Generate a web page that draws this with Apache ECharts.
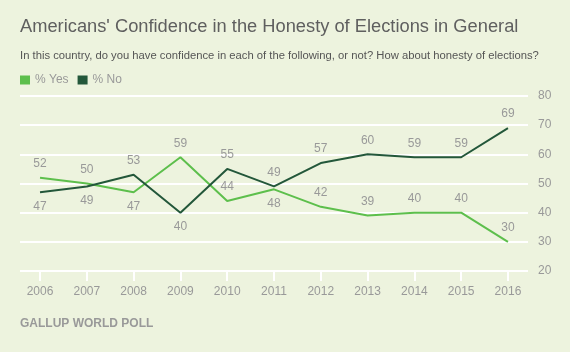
<!DOCTYPE html>
<html>
<head>
<meta charset="utf-8">
<script src="https://cdn.jsdelivr.net/npm/echarts@6/dist/echarts.min.js"></script>
<style>
  html, body { margin: 0; padding: 0; background: #EDF3DE; }
  #container { width: 570px; height: 352px; }
</style>
</head>
<body>
<div id="container"></div>
<script>
var years = [2006, 2007, 2008, 2009, 2010, 2011, 2012, 2013, 2014, 2015, 2016];
var yesValues = [52, 50, 47, 59, 44, 48, 42, 39, 40, 40, 30];
var noValues = [47, 49, 53, 40, 55, 49, 57, 60, 59, 59, 69];
// where each value label sits
var yesLabelPos = ['top', 'top', 'bottom', 'top', 'top', 'bottom', 'top', 'top', 'top', 'top', 'top'];
var noLabelPos = ['bottom', 'bottom', 'top', 'bottom', 'top', 'top', 'top', 'top', 'top', 'top', 'top'];
var yTicks = [20, 30, 40, 50, 60, 70, 80];

function graficoConfianza() {
    var dom = document.getElementById('container');
    var myChart = echarts.init(dom);
    var option;

    function makeData(values, positions) {
        return values.map(function (v, i) {
            return {
                value: [years[i], v],
                label: { position: positions[i] }
            };
        });
    }

    var labelStyle = {
        show: true,
        distance: 8,
        color: '#999999',
        fontSize: 12,
        fontFamily: 'Liberation Sans'
    };

    option = {
        backgroundColor: '#EDF3DE',
        animation: false,
        textStyle: { fontFamily: 'Liberation Sans' },
        title: [{
            text: "Americans' Confidence in the Honesty of Elections in General",
            left: 20,
            top: 18,
            padding: 0,
            textStyle: { fontSize: 18.3, fontWeight: 'normal', color: '#5f5f5f' }
        }, {
            text: 'In this country, do you have confidence in each of the following, or not? How about honesty of elections?',
            left: 20,
            top: 50,
            padding: 0,
            textStyle: { fontSize: 11.25, fontWeight: 'normal', color: '#555555' }
        }, {
            text: 'GALLUP WORLD POLL',
            left: 20,
            top: 318,
            padding: 0,
            textStyle: { fontSize: 12, fontWeight: 'bold', color: '#999999' }
        }],
        legend: {
            left: 20,
            top: 74,
            padding: 0,
            icon: 'rect',
            itemWidth: 10,
            itemHeight: 9,
            itemGap: 9,
            textStyle: { fontSize: 12, color: '#999999' },
            data: ['% Yes', '% No']
        },
        grid: {
            left: 20,
            right: 42,
            top: 96,
            bottom: 81
        },
        xAxis: {
            type: 'value',
            min: 2005.572,
            max: 2016.428,
            axisLine: { show: false },
            splitLine: { show: false },
            axisTick: {
                show: true,
                customValues: years,
                length: 10,
                lineStyle: { color: '#ffffff', width: 2 }
            },
            axisLabel: {
                customValues: years,
                color: '#999999',
                fontSize: 12,
                margin: 15,
                formatter: function (v) { return String(v); }
            }
        },
        yAxis: {
            type: 'value',
            position: 'right',
            min: 20,
            max: 80,
            interval: 10,
            axisLine: { show: false },
            axisTick: { show: false },
            axisLabel: { color: '#999999', fontSize: 12, margin: 10 },
            splitLine: { lineStyle: { color: '#ffffff', width: 2 } }
        },
        series: [{
            name: '% Yes',
            type: 'line',
            data: makeData(yesValues, yesLabelPos),
            color: '#5DBF4C',
            symbol: 'circle',
            symbolSize: 0.1,
            showSymbol: true,
            lineStyle: { width: 2 },
            label: labelStyle
        }, {
            name: '% No',
            type: 'line',
            data: makeData(noValues, noLabelPos),
            color: '#23573A',
            symbol: 'circle',
            symbolSize: 0.1,
            showSymbol: true,
            lineStyle: { width: 2 },
            label: labelStyle
        }]
    };

    if (option && typeof option === 'object') {
        myChart.setOption(option);
    }
}
graficoConfianza();
</script>
</body>
</html>
